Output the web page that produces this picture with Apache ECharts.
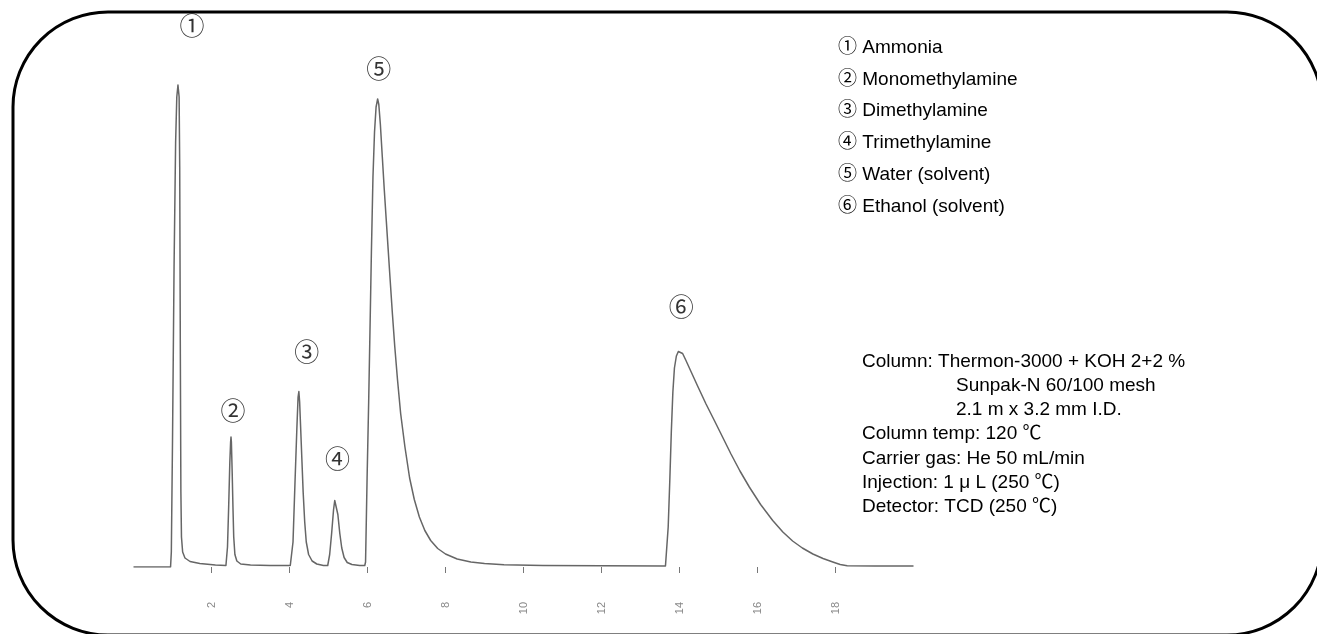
<!DOCTYPE html>
<html>
<head>
<meta charset="utf-8">
<script src="https://cdn.jsdelivr.net/npm/echarts@6/dist/echarts.min.js"></script>
<style>
html,body{margin:0;padding:0;background:#fff;}
#chart{width:1317px;height:634px;}
</style>
</head>
<body>
<div id="chart"></div>
<script>
// ---- data (retention time in min, detector signal in arbitrary units) ----
const tickLabels = [2, 4, 6, 8, 10, 12, 14, 16, 18];
const baselineStart = [[0, 0], [0.5, 0], [0.95, 0]];
const ammoniaTrace = [[0.97, 3], [1.00, 25], [1.04, 60], [1.08, 85], [1.11, 94], [1.14, 96.4], [1.17, 94], [1.185, 80], [1.20, 45], [1.215, 15], [1.23, 6], [1.26, 3], [1.32, 1.8], [1.45, 1.1], [1.7, 0.7], [2.1, 0.4]];
const monomethylTrace = [[2.37, 0.3], [2.41, 4], [2.44, 12], [2.47, 21], [2.49, 25], [2.50, 26], [2.51, 25], [2.53, 19], [2.55, 12], [2.57, 6], [2.60, 2.5], [2.65, 1.2], [2.75, 0.6], [3.0, 0.4], [3.5, 0.3], [4.02, 0.3]];
const dimethylTrace = [[4.05, 0.5], [4.09, 5], [4.14, 16.7], [4.19, 28], [4.22, 34], [4.24, 35.1], [4.26, 33], [4.29, 27], [4.32, 21], [4.35, 15], [4.39, 9], [4.43, 5], [4.49, 2.5], [4.58, 1.2], [4.70, 0.6], [4.87, 0.3]];
const trimethylTrace = [[4.98, 0.3], [5.03, 2.5], [5.08, 6.7], [5.13, 11.5], [5.16, 13.3], [5.18, 13.7], [5.20, 13.2], [5.24, 10.5], [5.29, 6.7], [5.34, 3.8], [5.40, 1.9], [5.48, 0.9], [5.60, 0.5], [5.80, 0.3], [5.93, 0.3]];
const waterTrace = [[5.95, 1], [5.99, 18], [6.03, 33], [6.07, 50], [6.10, 63], [6.14, 78], [6.18, 87], [6.22, 92], [6.26, 93.6], [6.29, 92.5], [6.33, 88.5], [6.38, 82], [6.43, 75.5], [6.48, 69.5], [6.53, 63.5], [6.58, 57.5], [6.64, 50.5], [6.70, 44], [6.77, 37.4], [6.85, 30.7], [6.96, 24], [7.08, 17.8], [7.20, 13.5], [7.33, 10], [7.47, 7.3], [7.62, 5.3], [7.80, 3.7], [8.00, 2.6], [8.30, 1.6], [8.65, 1.0], [9.00, 0.7], [9.50, 0.45], [10.5, 0.3], [12, 0.25], [13.64, 0.2]];
const ethanolTrace = [[13.67, 0.5], [13.71, 8], [13.75, 17], [13.79, 27], [13.83, 35], [13.87, 39.8], [13.92, 42.2], [13.97, 43.1], [14.02, 43.2], [14.08, 42.7], [14.16, 41.4], [14.30, 39], [14.47, 36.1], [14.68, 32.6], [14.90, 29.2], [15.11, 25.9], [15.32, 22.6], [15.55, 19.2], [15.79, 16], [16.08, 12.5], [16.39, 9.3], [16.65, 7], [16.90, 5.2], [17.15, 3.8], [17.42, 2.6], [17.68, 1.7], [17.93, 1.0], [18.12, 0.5], [18.30, 0.25], [19.0, 0.2], [20, 0.2]];

const peakMarks = ['①', '②', '③', '④', '⑤', '⑥'];
const peakTimes = [1.14, 2.50, 4.24, 5.18, 6.26, 14.02];
const peakHeights = [96.4, 26, 35.1, 13.7, 93.6, 43.2];

const compoundNames = ['① Ammonia', '② Monomethylamine', '③ Dimethylamine', '④ Trimethylamine', '⑤ Water (solvent)', '⑥ Ethanol (solvent)'];
const conditionLines = ['Column: Thermon-3000 + KOH 2+2 %', 'Sunpak-N 60/100 mesh', '2.1 m x 3.2 mm I.D.', 'Column temp: 120 ℃', 'Carrier gas: He 50 mL/min', 'Injection: 1 μ L (250 ℃)', 'Detector: TCD (250 ℃)'];

// ---- layout / style (not data) ----
const FONT = '"Liberation Sans", Arial, "Noto Sans CJK JP", sans-serif';
const markOffsets = [[14, -57], [2, -24], [8, -37], [2, -37], [1, -28], [1, -42]];
const condIndent = [0, 94, 94, 0, 0, 0, 0];

const trace = [].concat(baselineStart, ammoniaTrace, monomethylTrace, dimethylTrace, trimethylTrace, waterTrace, ethanolTrace);

const graphics = [{
  type: 'rect', z: 0,
  shape: {x: 13, y: 12, width: 1309, height: 623, r: 95},
  style: {fill: 'none', stroke: '#000', lineWidth: 3}
}];
compoundNames.forEach((s, i) => {
  graphics.push({type: 'text', left: 838, top: 38 + i * 31.8,
    style: {text: s, font: '19px ' + FONT, fill: '#000'}});
});
conditionLines.forEach((s, i) => {
  graphics.push({type: 'text', left: 862 + condIndent[i], top: 352 + i * 24.2,
    style: {text: s, font: '19px ' + FONT, fill: '#000'}});
});

const chart = echarts.init(document.getElementById('chart'), null, {renderer: 'canvas'});
chart.setOption({
  backgroundColor: '#fff',
  animation: false,
  grid: {left: 133.5, right: 403.5, top: 67, bottom: 67},
  xAxis: {
    type: 'value', min: 0, max: 20, interval: 2,
    offset: 11,
    axisLine: {show: false},
    splitLine: {show: false},
    axisTick: {show: true, length: 6, customValues: tickLabels, lineStyle: {color: '#777', width: 1}},
    axisLabel: {show: true, customValues: tickLabels, rotate: 90, margin: 24, fontSize: 11, color: '#888', fontFamily: FONT}
  },
  yAxis: {type: 'value', min: 0, max: 100, show: false},
  series: [{
    type: 'line',
    data: trace,
    showSymbol: false,
    smooth: false,
    lineStyle: {color: '#666', width: 1.5, join: 'round'},
    z: 2
  }, {
    type: 'scatter',
    symbolSize: 0,
    data: peakMarks.map((m, i) => ({
      value: [peakTimes[i], peakHeights[i]],
      label: {show: true, formatter: m, position: 'inside', offset: markOffsets[i]}
    })),
    label: {fontSize: 25, color: '#000', fontFamily: FONT},
    z: 3
  }],
  graphic: graphics
});
</script>
</body>
</html>
